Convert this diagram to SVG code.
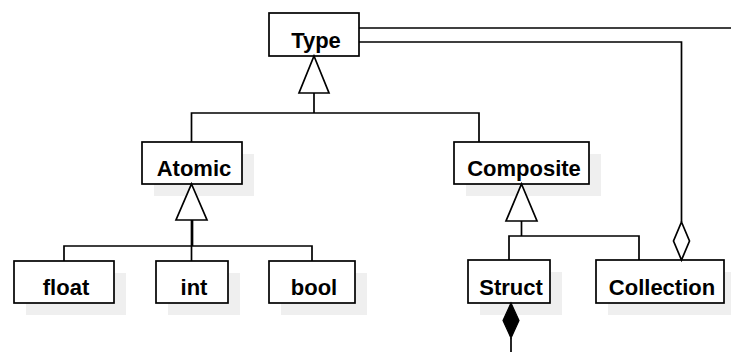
<svg xmlns="http://www.w3.org/2000/svg" width="731" height="352" viewBox="0 0 731 352">
  <style>
    .shadow { fill: #efefef; stroke: none; }
    .box { fill: #ffffff; stroke: #000000; stroke-width: 1.7; }
    .label { font-family: "Liberation Sans", Arial, sans-serif; font-weight: bold; font-size: 22px; fill: #000000; text-anchor: middle; }
    .line { fill: none; stroke: #000000; stroke-width: 1.7; }
    .hollow { fill: #ffffff; stroke: #000000; stroke-width: 1.7; }
    .filled { fill: #000000; stroke: #000000; stroke-width: 1.2; }
  </style>

  <!-- class nodes -->
  <g id="type">
    <rect class="box" x="269" y="13" width="90" height="43"/>
    <text class="label" x="316" y="48">Type</text>
  </g>
  <g id="atomic">
    <rect class="shadow" x="154" y="154" width="100" height="42"/>
    <rect class="box" x="142" y="142" width="100" height="42"/>
    <text class="label" x="194" y="176">Atomic</text>
  </g>
  <g id="composite">
    <rect class="shadow" x="466" y="154" width="135" height="42"/>
    <rect class="box" x="454" y="142" width="135" height="42"/>
    <text class="label" x="524" y="176">Composite</text>
  </g>
  <g id="float">
    <rect class="shadow" x="26" y="273" width="100" height="42"/>
    <rect class="box" x="14" y="261" width="100" height="42"/>
    <text class="label" x="66" y="295">float</text>
  </g>
  <g id="int">
    <rect class="shadow" x="168" y="273" width="72" height="42"/>
    <rect class="box" x="156" y="261" width="72" height="42"/>
    <text class="label" x="194" y="295">int</text>
  </g>
  <g id="bool">
    <rect class="shadow" x="281" y="273" width="86" height="42"/>
    <rect class="box" x="269" y="261" width="86" height="42"/>
    <text class="label" x="314" y="295">bool</text>
  </g>
  <g id="struct">
    <rect class="shadow" x="480" y="272" width="82" height="43"/>
    <rect class="box" x="468" y="260" width="82" height="43"/>
    <text class="label" x="511" y="295">Struct</text>
  </g>
  <g id="collection">
    <rect class="shadow" x="608" y="272" width="128" height="43"/>
    <rect class="box" x="596" y="260" width="128" height="43"/>
    <text class="label" x="662" y="295">Collection</text>
  </g>

  <!-- relationships -->
  <g id="connectors">
    <!-- Atomic, Composite generalize Type -->
    <polyline class="line" points="191.5,142 191.5,113 479,113 479,142"/>
    <line class="line" x1="314" y1="93" x2="314" y2="113"/>
    <polygon class="hollow" points="314,56 329,93 299,93"/>

    <!-- float, int, bool generalize Atomic -->
    <polyline class="line" points="64,261 64,246 312,246 312,261"/>
    <line class="line" x1="191.5" y1="220" x2="191.5" y2="261"/>
    <line class="line" x1="192.5" y1="220" x2="192.5" y2="246"/>
    <polygon class="hollow" points="191.5,184 207,220 176,220"/>

    <!-- Struct, Collection generalize Composite -->
    <polyline class="line" points="509,260 509,236 639,236 639,260"/>
    <line class="line" x1="521.5" y1="221" x2="521.5" y2="236"/>
    <polygon class="hollow" points="521.5,184 537,221 506,221"/>

    <!-- associations leaving Type -->
    <line class="line" x1="359" y1="28" x2="731" y2="28"/>
    <polyline class="line" points="359,42 681.5,42 681.5,222"/>
    <polygon class="hollow" points="681.5,222 689.5,241 681.5,260 673.5,241"/>

    <!-- Struct composition -->
    <line class="line" x1="511" y1="338" x2="511" y2="352"/>
    <polygon class="filled" points="511,303 519,320.5 511,338 503,320.5"/>
  </g>
</svg>
